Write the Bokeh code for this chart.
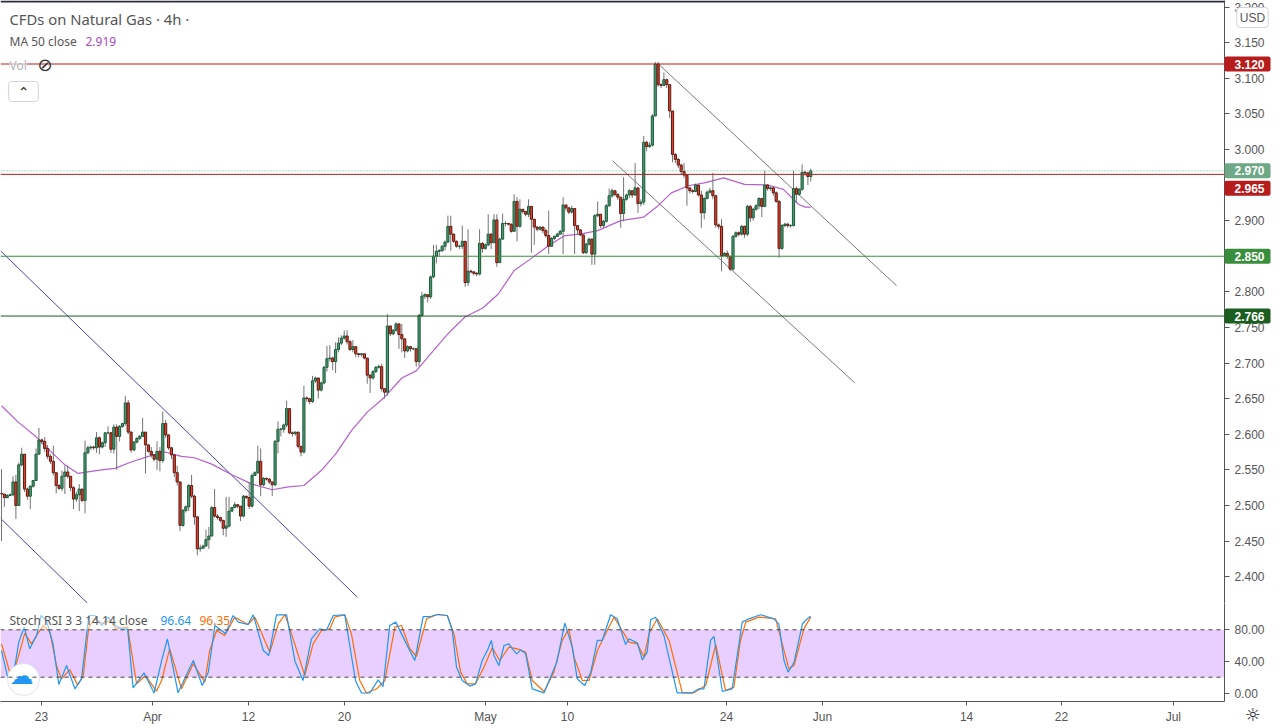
from bokeh.embed import file_html
from bokeh.layouts import column
from bokeh.models import (ColumnDataSource, FixedTicker, Label, NumeralTickFormatter,
                          Range1d, Span)
from bokeh.plotting import figure
from bokeh.resources import INLINE

# --- data (one candle per 4h bar) ---
closes = [
    2.516, 2.511, 2.514, 2.515, 2.533, 2.500, 2.557, 2.572, 2.523, 2.513,
    2.527, 2.535, 2.572, 2.592, 2.590, 2.580, 2.569, 2.562, 2.546, 2.528,
    2.524, 2.541, 2.547, 2.541, 2.525, 2.509, 2.515, 2.523, 2.507, 2.574,
    2.581, 2.582, 2.581, 2.595, 2.582, 2.588, 2.602, 2.602, 2.579, 2.610,
    2.597, 2.611, 2.615, 2.644, 2.603, 2.578, 2.589, 2.594, 2.597, 2.603,
    2.585, 2.576, 2.571, 2.565, 2.576, 2.563, 2.615, 2.599, 2.581, 2.571,
    2.546, 2.533, 2.472, 2.493, 2.498, 2.528, 2.513, 2.484, 2.439, 2.440,
    2.443, 2.452, 2.457, 2.497, 2.485, 2.483, 2.479, 2.468, 2.471, 2.492,
    2.497, 2.501, 2.499, 2.485, 2.513, 2.511, 2.499, 2.542, 2.546, 2.562,
    2.529, 2.538, 2.537, 2.533, 2.529, 2.590, 2.607, 2.607, 2.613, 2.636,
    2.602, 2.601, 2.603, 2.583, 2.575, 2.651, 2.650, 2.646, 2.675, 2.679,
    2.662, 2.672, 2.694, 2.706, 2.707, 2.702, 2.719, 2.728, 2.735, 2.738,
    2.730, 2.719, 2.723, 2.713, 2.712, 2.713, 2.707, 2.683, 2.679, 2.688,
    2.694, 2.695, 2.664, 2.659, 2.752, 2.741, 2.746, 2.755, 2.740, 2.734,
    2.717, 2.723, 2.720,
    2.720, 2.702, 2.767, 2.794, 2.796, 2.793, 2.821, 2.850, 2.857, 2.858,
    2.864, 2.870, 2.892, 2.881, 2.871, 2.864, 2.864, 2.871, 2.813, 2.829,
    2.828, 2.826, 2.825, 2.868, 2.861, 2.866, 2.881, 2.869, 2.901, 2.841,
    2.874, 2.896, 2.896, 2.895, 2.885, 2.927, 2.892, 2.916, 2.913, 2.909,
    2.920, 2.902, 2.891, 2.888, 2.891, 2.886, 2.879, 2.864, 2.875, 2.878,
    2.881, 2.885, 2.922, 2.918, 2.912, 2.917, 2.893, 2.887, 2.880, 2.855,
    2.867, 2.874, 2.853, 2.907, 2.909, 2.893, 2.899, 2.921, 2.935, 2.942,
    2.937, 2.933, 2.910,
    2.930, 2.936, 2.942, 2.936, 2.946, 2.924, 2.926, 3.010, 3.004, 3.006,
    3.047, 3.120, 3.091, 3.090, 3.098, 3.091, 3.054, 2.993, 2.986, 2.978,
    2.969, 2.964, 2.946, 2.942, 2.941, 2.950, 2.936, 2.911, 2.931, 2.940,
    2.942, 2.935, 2.894, 2.892, 2.851, 2.854, 2.850, 2.832, 2.878, 2.883,
    2.881, 2.892, 2.881, 2.920, 2.904, 2.916, 2.921, 2.931, 2.920, 2.950,
    2.945, 2.946, 2.939, 2.927, 2.861, 2.893, 2.895, 2.893, 2.893, 2.945,
    2.937, 2.944, 2.968, 2.967, 2.962, 2.970,
]
highs = [
    2.551, 2.516, 2.516, 2.517, 2.541, 2.543, 2.560, 2.581, 2.572, 2.525,
    2.528, 2.536, 2.580, 2.609, 2.594, 2.596, 2.585, 2.572, 2.584, 2.546,
    2.530, 2.549, 2.556, 2.556, 2.541, 2.527, 2.519, 2.530, 2.523, 2.591,
    2.584, 2.584, 2.584, 2.603, 2.597, 2.590, 2.603, 2.611, 2.603, 2.614,
    2.614, 2.613, 2.616, 2.654, 2.648, 2.604, 2.590, 2.596, 2.599, 2.623,
    2.603, 2.586, 2.582, 2.572, 2.590, 2.582, 2.632, 2.620, 2.600, 2.582,
    2.572, 2.556, 2.533, 2.495, 2.500, 2.530, 2.543, 2.515, 2.484, 2.445,
    2.445, 2.466, 2.470, 2.499, 2.523, 2.488, 2.483, 2.480, 2.512, 2.512,
    2.498, 2.505, 2.502, 2.499, 2.515, 2.513, 2.533, 2.545, 2.548, 2.584,
    2.580, 2.540, 2.539, 2.538, 2.531, 2.592, 2.618, 2.609, 2.615, 2.647,
    2.636, 2.604, 2.604, 2.603, 2.583, 2.668, 2.653, 2.649, 2.682, 2.681,
    2.679, 2.674, 2.696, 2.724, 2.725, 2.709, 2.729, 2.736, 2.739, 2.746,
    2.746, 2.732, 2.732, 2.723, 2.714, 2.714, 2.713, 2.707, 2.684, 2.690,
    2.696, 2.698, 2.699, 2.665, 2.769, 2.753, 2.748, 2.757, 2.755, 2.755,
    2.734, 2.725, 2.724,
    2.722, 2.721, 2.769, 2.800, 2.798, 2.796, 2.823, 2.866, 2.866, 2.860,
    2.866, 2.872, 2.907, 2.907, 2.882, 2.872, 2.866, 2.893, 2.871, 2.888,
    2.831, 2.829, 2.828, 2.888, 2.870, 2.868, 2.909, 2.882, 2.909, 2.909,
    2.876, 2.910, 2.899, 2.897, 2.896, 2.937, 2.933, 2.930, 2.916, 2.912,
    2.930, 2.920, 2.902, 2.892, 2.892, 2.891, 2.889, 2.914, 2.877, 2.879,
    2.883, 2.887, 2.933, 2.922, 2.918, 2.921, 2.917, 2.893, 2.888, 2.880,
    2.869, 2.876, 2.875, 2.909, 2.927, 2.909, 2.901, 2.923, 2.945, 2.945,
    2.942, 2.938, 2.933,
    2.961, 2.938, 2.944, 2.940, 2.981, 2.946, 2.930, 3.019, 3.012, 3.010,
    3.050, 3.123, 3.123, 3.093, 3.108, 3.099, 3.091, 3.054, 2.995, 2.988,
    2.980, 2.981, 2.964, 2.947, 2.944, 2.952, 2.950, 2.942, 2.933, 2.942,
    2.946, 2.967, 2.936, 2.896, 2.902, 2.856, 2.858, 2.850, 2.880, 2.885,
    2.885, 2.894, 2.893, 2.922, 2.922, 2.918, 2.923, 2.933, 2.932, 2.970,
    2.951, 2.948, 2.948, 2.941, 2.929, 2.895, 2.897, 2.897, 2.895, 2.970,
    2.948, 2.946, 2.979, 2.970, 2.968, 2.973,
]
lows = [
    2.450, 2.498, 2.510, 2.513, 2.513, 2.481, 2.500, 2.555, 2.519, 2.508,
    2.495, 2.525, 2.535, 2.572, 2.586, 2.575, 2.565, 2.558, 2.542, 2.517,
    2.522, 2.520, 2.516, 2.538, 2.520, 2.495, 2.505, 2.492, 2.505, 2.489,
    2.572, 2.578, 2.578, 2.574, 2.572, 2.580, 2.582, 2.600, 2.574, 2.573,
    2.550, 2.590, 2.609, 2.612, 2.600, 2.574, 2.576, 2.587, 2.592, 2.597,
    2.545, 2.574, 2.567, 2.562, 2.550, 2.548, 2.560, 2.595, 2.578, 2.565,
    2.540, 2.528, 2.464, 2.470, 2.490, 2.492, 2.510, 2.473, 2.430, 2.435,
    2.439, 2.442, 2.439, 2.457, 2.483, 2.480, 2.476, 2.458, 2.456, 2.469,
    2.492, 2.497, 2.496, 2.478, 2.483, 2.509, 2.495, 2.497, 2.542, 2.544,
    2.513, 2.527, 2.535, 2.530, 2.513, 2.527, 2.573, 2.597, 2.602, 2.610,
    2.600, 2.597, 2.598, 2.580, 2.569, 2.573, 2.646, 2.642, 2.644, 2.672,
    2.650, 2.660, 2.670, 2.688, 2.702, 2.690, 2.686, 2.715, 2.725, 2.733,
    2.726, 2.717, 2.715, 2.708, 2.708, 2.709, 2.705, 2.671, 2.658, 2.677,
    2.686, 2.692, 2.660, 2.650, 2.654, 2.738, 2.739, 2.744, 2.720, 2.715,
    2.707, 2.715, 2.716,
    2.718, 2.695, 2.695, 2.765, 2.790, 2.785, 2.790, 2.819, 2.840, 2.850,
    2.856, 2.858, 2.868, 2.858, 2.869, 2.862, 2.860, 2.860, 2.807, 2.808,
    2.826, 2.823, 2.822, 2.823, 2.855, 2.859, 2.864, 2.860, 2.869, 2.835,
    2.841, 2.874, 2.892, 2.893, 2.883, 2.885, 2.871, 2.890, 2.910, 2.906,
    2.905, 2.855, 2.866, 2.885, 2.886, 2.882, 2.876, 2.853, 2.863, 2.873,
    2.877, 2.881, 2.853, 2.914, 2.909, 2.910, 2.853, 2.880, 2.878, 2.853,
    2.853, 2.865, 2.838, 2.838, 2.905, 2.890, 2.890, 2.897, 2.919, 2.932,
    2.934, 2.929, 2.890,
    2.899, 2.928, 2.932, 2.932, 2.935, 2.911, 2.920, 2.922, 2.998, 3.002,
    3.004, 3.073, 3.088, 3.086, 3.089, 3.086, 3.044, 2.982, 2.981, 2.974,
    2.964, 2.960, 2.921, 2.938, 2.938, 2.940, 2.934, 2.890, 2.902, 2.930,
    2.938, 2.930, 2.890, 2.888, 2.829, 2.850, 2.846, 2.829, 2.830, 2.876,
    2.878, 2.879, 2.876, 2.878, 2.898, 2.900, 2.914, 2.916, 2.905, 2.919,
    2.942, 2.942, 2.935, 2.925, 2.848, 2.859, 2.891, 2.890, 2.890, 2.892,
    2.925, 2.935, 2.942, 2.963, 2.950, 2.955,
]
first_open = 2.517

ma_bars = [0, 5.8, 11.6, 15, 22, 26.6, 34.7, 39.4, 45, 51,
           56.7, 62.5, 67, 73, 80, 87, 94, 99.6, 105, 111,
           116, 121.5, 127, 133, 139, 144, 149, 155, 161, 167,
           172.5, 178, 184, 190, 195.6, 201, 207, 215, 223, 228,
           232.6, 238.5, 244, 250.7, 258, 266, 271.5, 276.7, 279, 281]
ma_vals = [2.640, 2.617, 2.598, 2.584, 2.557, 2.545, 2.550, 2.552, 2.561, 2.569,
           2.575, 2.569, 2.567, 2.558, 2.543, 2.530, 2.522, 2.526, 2.528, 2.549,
           2.572, 2.605, 2.631, 2.652, 2.679, 2.689, 2.713, 2.741, 2.765, 2.777,
           2.797, 2.830, 2.847, 2.865, 2.879, 2.881, 2.886, 2.900, 2.905, 2.921,
           2.939, 2.949, 2.953, 2.960, 2.951, 2.950, 2.944, 2.923, 2.919, 2.919]

k_bars = [0, 2.3, 4.6, 6, 7.9, 9.8, 12.2, 13.7, 15.6, 17.9, 19.9, 22.6, 25.5, 27.8,
          30.3, 32.4, 34.7, 37, 39.4, 41.7, 43.8, 45.7, 49.5, 53, 55.6, 57.6, 61.3,
          66.6, 69.7, 71.8, 74.1, 77.8, 80.4, 82.2, 85.6, 87.4, 90.9, 92.8, 95.5, 99,
          101.9, 104.7, 107.6, 110.5, 112.8, 115.2, 119.2, 122.9, 125, 127.9, 130.8,
          132.5, 134.8, 136.9, 140.6, 143.5, 146.4,
          149, 151.3, 154.8, 156.5, 158, 160, 162.7, 164.6, 166.9, 168.7, 170.1, 171,
          172.7, 174.5, 176.2, 177.4, 178.9, 180.3, 182, 184.3, 188.4, 192.8, 195.6,
          198.2, 199.9, 202.5, 204.6, 206.9, 208.6, 211.5, 213.8, 216.7, 217.9, 220.8,
          222.5, 224.2, 225.4, 227.1, 230, 234.6, 239.9, 242.2, 243.9, 246.2, 247.4,
          250.3, 253.7, 257.2, 259.5, 263.6, 268.2, 269.9, 271.7, 273.1, 275.2, 278.1,
          280.4, 281]
k_vals = [53.8, 17.9, 32.7, 64.4, 83.3, 55.9, 72.8, 98.1, 91.8, 62.2, 10.8, 34.8, 5.3, 17.9,
          98.1, 98.1, 85.4, 96, 85.4, 81.2, 81.2, 6.5, 25.5, 0, 41.1, 68.6, 0.2,
          41.1, 9.5, 26.4, 85.4, 74.9, 98.1, 89.7, 86.7, 99, 53.8, 47.5, 99, 99,
          40.3, 15.8, 68.6, 81.2, 79.1, 98.1, 99, 15.8, 0, 0, 16.7,
          8.2, 85.4, 89.7, 62.2, 41.1, 96.8,
          96.8, 99.4, 98.1, 79.1, 32.7, 15.8, 8.6, 11.6, 41.1, 53.8, 66.5, 47.5,
          34.8, 60.1, 62.2, 55.9, 49.6, 54.6, 49.6, 5.3, 0.2, 39, 88.4,
          58, 17.9, 9.5, 26.4, 66.5, 66.5, 99, 93.9, 61.4, 68.6, 63.1,
          42, 51.7, 92.6, 96, 72.8, 0.2, 0.2, 5.3, 5.3, 66.5, 71.5,
          1.9, 5.3, 89.7, 93.9, 99, 93.9, 87.6, 41.1, 26.4, 39, 87.6,
          96, 96.64]
d_bars = [0, 1.7, 3.5, 5.8, 8.1, 10.4, 12.5, 14.5, 16.8, 19.1, 20.8, 23.7, 26.4, 28.4,
          30.3, 32.4, 35.3, 37.6, 39.9, 43.8, 46.9, 50, 53.8, 55.6, 58.4, 62.5, 66.6,
          70.6, 72.3, 74.7, 77.5, 81, 85.6, 88, 91.4, 93.2, 96.1, 98.4, 100.7, 105.3,
          108.2, 111.1, 114, 115.7, 119.2, 121.5, 124.4, 126.7, 130.2, 133.1, 136.6,
          138.9, 141.8, 144.1, 147.6,
          149, 151.3, 154.8, 157.1, 159.4, 161.7, 164.6, 167.5, 170.4, 173, 176.2, 179.1,
          182, 184.3, 188.4, 191.8, 194.7, 197, 198.8, 201.7, 204, 206.9, 210.3, 212.7,
          215.5, 217.9, 220.8, 223.1, 224.8, 227.7, 231.8, 236.4, 240.4, 244.5, 248,
          251.4, 254.3, 256.6, 258.4, 263, 268.8, 271.1, 273.4, 275.2, 278.6, 281]
d_vals = [62.2, 41.1, 17.9, 45.4, 75.7, 62.2, 74.9, 85.4, 77, 34.8, 17.9, 29.7, 10.3, 22.1,
          83.3, 93.9, 87.6, 91.8, 81.2, 83.3, 11.6, 22.1, 2.3, 15.8, 55.9, 5.3, 36.9,
          13.7, 53.8, 79.1, 72.8, 96, 86.7, 96, 66.5, 51.7, 87.6, 99.4, 74.9, 22.1,
          62.2, 79.1, 81.2, 96, 99, 74.9, 15.8, 0, 5.3, 15.8, 83.3,
          85.4, 55.9, 46.2, 93.9,
          96, 99.4, 98.1, 74.9, 26.4, 11.6, 11.6, 32.7, 57.2, 41.1, 58, 55.9,
          51.7, 15.8, 1.9, 26.4, 66.5, 81.2, 45.4, 15.8, 15.8, 53.8, 79.1, 96,
          79.1, 64.4, 62.2, 45.4, 74.9, 93.9, 66.5, 0.2, 0.2, 9.5, 61.4,
          3.2, 7.4, 66.5, 89.7, 96, 93.9, 62.2, 30.6, 34.8, 81.2, 96.35]

level_prices = [3.120, 2.965, 2.850, 2.766]
level_labels = ["3.120", "2.965", "2.850", "2.766"]
level_colors = ["#b71c1c", "#b71c1c", "#388e3c", "#1b5e20"]
price_ticks = [2.40, 2.45, 2.50, 2.55, 2.60, 2.65, 2.70, 2.75, 2.80, 2.85, 2.90, 2.95,
               3.00, 3.05, 3.10, 3.15, 3.20]

# trend lines: bar number and price at both ends
channel_x = [[228.1, 310.8], [212.2, 296.2]]
channel_y = [[3.120, 2.8086], [2.984, 2.6725]]
old_channel_x = [[-0.35, 123.6], [-0.35, 29.9]]
old_channel_y = [[2.8576, 2.371], [2.482, 2.3626]]

date_ticks = [13.89, 52.43, 85.76, 119.1, 168.06, 196.5, 251.7, 285.07, 335.1, 368.06, 406.9]
date_labels = ["23", "Apr", "12", "20", "May", "10", "24", "Jun", "14", "22", "Jul"]

GREEN_FILL, GREEN_EDGE = "#4b9a76", "#1c5a38"
RED_FILL, RED_EDGE = "#e0402c", "#5e1a12"
AXIS = "#555555"
TEXT = "#555555"


# chart pixel -> data, only used to place the legend texts and tags
def to_x(px):
    return (px - 1) / 2.88


def to_y(py):
    return 3.12 - (py - 63.5) / 712


def low_y(py):
    return (692.5 - py) / 0.79


opens = [first_open] + closes[:-1]
bars = list(range(len(closes)))
source = ColumnDataSource(dict(
    bar=bars, open=opens, close=closes, high=highs, low=lows,
    fill=[GREEN_FILL if c >= o else RED_FILL for o, c in zip(opens, closes)],
    edge=[GREEN_EDGE if c >= o else RED_EDGE for o, c in zip(opens, closes)],
))

x_range = Range1d(to_x(0), to_x(1224))

# --- price pane ---
p = figure(frame_width=1224, frame_height=603, x_range=x_range,
           y_range=Range1d(to_y(603), to_y(0)), x_axis_location=None,
           y_axis_location="right", output_backend="svg", toolbar_location=None,
           min_border_left=0, min_border_right=56, min_border_top=0, min_border_bottom=0,
           outline_line_color=None, background_fill_color="white")
p.grid.visible = False
p.yaxis.ticker = FixedTicker(ticks=price_ticks)
p.yaxis.formatter = NumeralTickFormatter(format="0.000")
p.yaxis.minor_tick_line_color = None
p.yaxis.major_tick_in = 0
p.yaxis.major_tick_out = 5
p.yaxis.major_label_standoff = 5
p.yaxis.axis_line_color = AXIS
p.yaxis.major_tick_line_color = AXIS
p.yaxis.major_label_text_color = TEXT
p.yaxis.major_label_text_font = "Liberation Sans"
p.yaxis.major_label_text_font_size = "12px"

for price, color in zip(level_prices, level_colors):
    p.add_layout(Span(location=price, dimension="width", line_color=color, line_width=1))
p.add_layout(Span(location=2.970, dimension="width", line_color="#6ca583", line_width=1,
                  line_dash="1 2"))

p.multi_line(old_channel_x, old_channel_y, line_color="#4646a8", line_width=1)
p.multi_line(channel_x, channel_y, line_color="#787878", line_width=1)
p.line(ma_bars, ma_vals, line_color="#b65fcf", line_width=1.2)
p.segment("bar", "high", "bar", "low", source=source, line_color="#737373", line_width=1)
p.vbar("bar", 0.75, "open", "close", source=source, fill_color="fill", line_color="edge",
       line_width=1)


def tag(text, price, color, shift=0):
    p.add_layout(Label(x=to_x(1224), y=price, x_offset=0, y_offset=shift, text=text,
                       text_color="white", text_font="Liberation Sans",
                       text_font_style="bold", text_font_size="12px", text_align="left",
                       text_baseline="middle", background_fill_color=color,
                       padding=(10, 6, 3, 3), border_radius=2), "right")


tag(level_labels[0], level_prices[0], level_colors[0])
tag("2.970", 2.970, "#6ea887")
tag(level_labels[1], level_prices[1], level_colors[1], shift=-14)
tag(level_labels[2], level_prices[2], level_colors[2])
tag(level_labels[3], level_prices[3], level_colors[3])


def note(text, px, py, color=TEXT, size="12px", font="Noto Sans", align="left", side=None, **kw):
    label = Label(x=to_x(px), y=to_y(py), text=text, text_color=color, text_font=font,
                  text_font_size=size, text_align=align, text_baseline="middle", **kw)
    if side:
        p.add_layout(label, side)
    else:
        p.add_layout(label)


note("USD", 1252, 17, align="center", font="Liberation Sans", border_line_color="#d1d4dc",
     background_fill_color="white", padding=(3, 3), border_radius=3, side="right")
note("CFDs on Natural Gas · 4h ·", 9, 18, size="14.8px")
note("MA 50 close", 9, 41)
note("2.919", 85, 41, color="#ab47bc")
note("Vol", 9, 65, color="#b2b5be", background_fill_color="white", background_fill_alpha=0.6)
note("⊘", 37, 64, color="#333333", size="18px", font="DejaVu Sans")
note("⌃", 23, 91, color="#222222", size="14px", align="center", font="DejaVu Sans",
     border_line_color="#d1d4dc", background_fill_color="white", padding=(9, 2), border_radius=3)
p.add_layout(Span(location=to_y(603), dimension="width", line_color=AXIS, line_width=1))
p.add_layout(Span(location=to_y(1), dimension="width", line_color="#2a2e39", line_width=2))

# --- stoch rsi pane ---
p2 = figure(frame_width=1224, frame_height=98, x_range=x_range,
            y_range=Range1d(low_y(701), low_y(603)), y_axis_location="right",
            output_backend="svg", toolbar_location=None, min_border_left=0, min_border_right=56,
            min_border_top=0, min_border_bottom=0, outline_line_color=None,
            background_fill_color="white")
p2.grid.visible = False
p2.xaxis.ticker = FixedTicker(ticks=date_ticks)
p2.xaxis.major_label_overrides = dict(zip(date_ticks, date_labels))
p2.yaxis.ticker = FixedTicker(ticks=[0, 40, 80])
p2.yaxis.formatter = NumeralTickFormatter(format="0.00")
for ax in (p2.xaxis, p2.yaxis):
    ax.minor_tick_line_color = None
    ax.major_tick_in = 0
    ax.axis_line_color = AXIS
    ax.major_tick_line_color = AXIS
    ax.major_label_text_color = TEXT
    ax.major_label_text_font = "Liberation Sans"
    ax.major_label_text_font_size = "12px"
p2.yaxis.major_tick_out = 5
p2.yaxis.major_label_standoff = 5
p2.xaxis.major_tick_out = 4
p2.xaxis.major_label_standoff = 4

p2.quad(left=[to_x(0)], right=[to_x(1224)], bottom=[20], top=[80], fill_color="#e9cfff",
        line_color=None)
for band in (20, 80):
    p2.add_layout(Span(location=band, dimension="width", line_color="#444444", line_width=1,
                       line_dash="4 4"))
p2.line(d_bars, d_vals, line_color="#ff6d00", line_width=1.2)
p2.line(k_bars, k_vals, line_color="#2196f3", line_width=1.2)


def low_note(text, px, py, color=TEXT, size="12px", font="Noto Sans", align="left", side=None, **kw):
    label = Label(x=to_x(px), y=low_y(py), text=text, text_color=color, text_font=font,
                  text_font_size=size, text_align=align, text_baseline="middle", **kw)
    if side:
        p2.add_layout(label, side)
    else:
        p2.add_layout(label)


low_note("Stoch RSI 3 3 14 14 close", 9, 620, background_fill_color="white", background_fill_alpha=0.5)
low_note("96.64", 160, 620, color="#2196f3", background_fill_color="white", background_fill_alpha=0.5)
low_note("96.35", 199, 620, color="#ff6d00", background_fill_color="white", background_fill_alpha=0.5)

p2.scatter([to_x(23)], [low_y(679)], size=32, fill_color="white", line_color="#e0e3eb")
low_note("☁", 21, 675, color="#2196f3", size="24px", align="center", font="DejaVu Sans")
low_note("☼", 1252, 714, color="#131722", size="18px", align="center", font="DejaVu Sans", side="right")

layout = column(p, p2, spacing=0)
open("out.html", "w").write(file_html(layout, INLINE))
